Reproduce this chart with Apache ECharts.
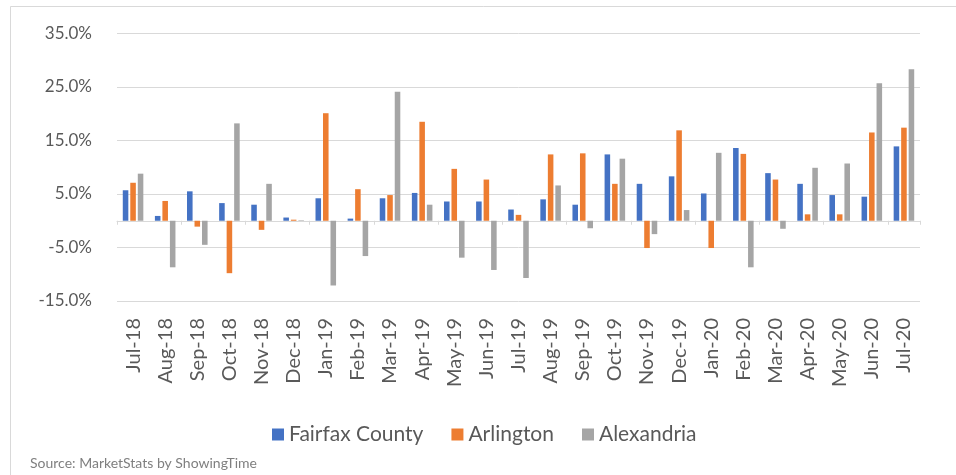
<!DOCTYPE html>
<html>
<head>
<meta charset="utf-8">
<script src="https://cdn.jsdelivr.net/npm/echarts@6/dist/echarts.min.js"></script>
<style>
  html, body { margin: 0; padding: 0; background: #fff; }
  #chart { width: 956px; height: 475px; }
</style>
</head>
<body>
<div id="chart"></div>
<script>
// Month labels (year-over-year change in median sales price)
const months = [
  'Jul-18', 'Aug-18', 'Sep-18', 'Oct-18', 'Nov-18', 'Dec-18', 'Jan-19', 'Feb-19', 'Mar-19',
  'Apr-19', 'May-19', 'Jun-19', 'Jul-19', 'Aug-19', 'Sep-19', 'Oct-19', 'Nov-19', 'Dec-19',
  'Jan-20', 'Feb-20', 'Mar-20', 'Apr-20', 'May-20', 'Jun-20', 'Jul-20'
];

// Percent change by jurisdiction
const fairfax = [
  5.7, 0.9, 5.5, 3.3, 3.0, 0.6, 4.2, 0.4, 4.2,
  5.2, 3.6, 3.6, 2.1, 4.0, 3.0, 12.4, 6.9, 8.3,
  5.1, 13.6, 8.9, 6.9, 4.8, 4.5, 13.9
];
const arlington = [
  7.1, 3.7, -1.1, -9.8, -1.7, 0.2, 20.1, 5.9, 4.8,
  18.5, 9.7, 7.7, 1.1, 12.4, 12.6, 6.9, -5.1, 16.9,
  -5.1, 12.5, 7.7, 1.2, 1.2, 16.5, 17.4
];
const alexandria = [
  8.8, -8.7, -4.5, 18.2, 6.9, 0.1, -12.1, -6.6, 24.1,
  3.0, -6.9, -9.2, -10.7, 6.6, -1.4, 11.6, -2.5, 2.0,
  12.7, -8.7, -1.5, 9.9, 10.7, 25.7, 28.3
];

// Value axis ticks
const yTicks = [-15, -5, 5, 15, 25, 35];

const seriesDefs = [
  { name: 'Fairfax County', data: fairfax, color: '#4472C4' },
  { name: 'Arlington', data: arlington, color: '#ED7D31' },
  { name: 'Alexandria', data: alexandria, color: '#A5A5A5' }
];

const chart = echarts.init(document.getElementById('chart'), null, { renderer: 'canvas' });

const labelFont = 'Lato, "Liberation Sans", sans-serif';

chart.setOption({
  animation: false,
  backgroundColor: '#ffffff',
  graphic: [
    {
      // outer frame of the chart area
      type: 'rect',
      shape: { x: 10.5, y: 6.5, width: 980, height: 500 },
      style: { fill: 'none', stroke: '#d9d9d9', lineWidth: 1 },
      silent: true
    },
    {
      type: 'text',
      left: 30,
      top: 456,
      style: {
        text: 'Source: MarketStats by ShowingTime',
        font: '14px ' + labelFont,
        fill: '#7f7f7f'
      }
    }
  ],
  grid: { left: 117, right: 36, top: 33.5, bottom: 174, containLabel: false },
  legend: {
    left: 267,
    top: 419,
    itemWidth: 12,
    itemHeight: 12,
    itemGap: 28,
    icon: 'rect',
    textStyle: { fontFamily: labelFont, fontSize: 21, color: '#595959' },
    data: seriesDefs.map(s => s.name)
  },
  xAxis: [
    {
      // axis line crossing at zero, with tick marks
      type: 'category',
      data: months,
      axisLine: { onZero: true, lineStyle: { color: '#d9d9d9', width: 1 } },
      axisTick: { show: true, length: 4, lineStyle: { color: '#d9d9d9' } },
      axisLabel: { show: false },
      splitLine: { show: false }
    },
    {
      // month labels placed below the plot
      type: 'category',
      data: months,
      position: 'bottom',
      axisLine: { show: false, onZero: false },
      axisTick: { show: false },
      axisLabel: {
        rotate: 90,
        interval: 0,
        margin: 17,
        fontFamily: labelFont,
        fontSize: 20,
        color: '#595959'
      }
    }
  ],
  yAxis: {
    type: 'value',
    min: yTicks[0],
    max: yTicks[yTicks.length - 1],
    interval: 10,
    axisLine: { show: false },
    axisTick: { show: false },
    axisLabel: {
      margin: 25,
      fontFamily: labelFont,
      fontSize: 17,
      color: '#595959',
      formatter: v => v.toFixed(1) + '%'
    },
    splitLine: { lineStyle: { color: '#d9d9d9', width: 1 } }
  },
  series: seriesDefs.map(s => ({
    name: s.name,
    type: 'bar',
    xAxisIndex: 0,
    data: s.data,
    barCategoryGap: '36%',
    barGap: '35%',
    itemStyle: { color: s.color }
  }))
});
</script>
</body>
</html>
